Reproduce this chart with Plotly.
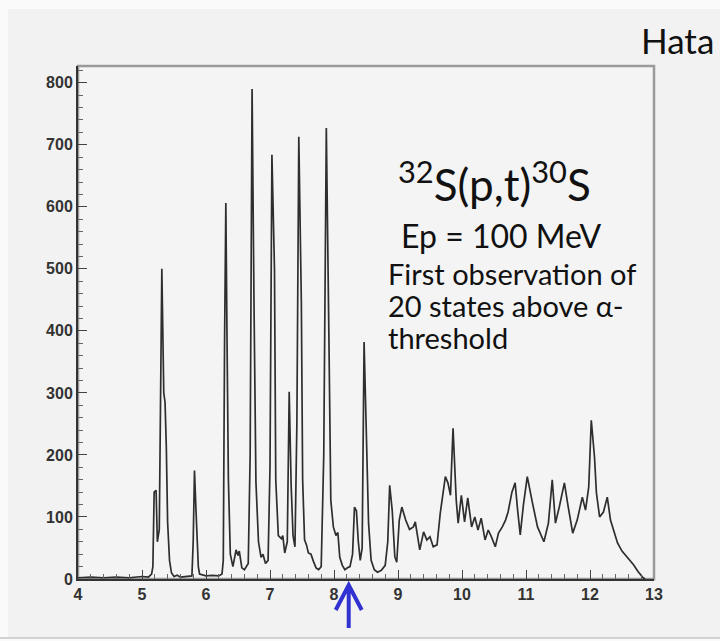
import plotly.graph_objects as go

# Excitation energy (MeV) and counts
energy = [
    4.00, 4.20, 4.40, 4.60, 4.80, 5.00, 5.10, 5.15, 5.17, 5.19, 5.22, 5.24, 5.27, 5.31, 5.34,
    5.36, 5.38, 5.40, 5.43, 5.46, 5.50, 5.55, 5.60, 5.70, 5.78, 5.80, 5.82, 5.84, 5.86, 5.88,
    5.90, 6.00, 6.10, 6.20, 6.25, 6.27, 6.29, 6.31, 6.33, 6.35, 6.38, 6.42, 6.47, 6.50, 6.52,
    6.56, 6.60, 6.66, 6.69, 6.72, 6.75, 6.78, 6.82, 6.86, 6.89, 6.93, 6.97, 7.00, 7.03, 7.07,
    7.09, 7.13, 7.18, 7.20, 7.23, 7.27, 7.30, 7.33, 7.36, 7.39, 7.42, 7.45, 7.49, 7.51, 7.54,
    7.57, 7.60, 7.64, 7.68, 7.72, 7.76, 7.80, 7.84, 7.88, 7.92, 7.95, 7.99, 8.03, 8.06, 8.09,
    8.13, 8.17, 8.21, 8.25, 8.29, 8.32, 8.35, 8.38, 8.41, 8.44, 8.47, 8.50, 8.54, 8.58, 8.63,
    8.68, 8.74, 8.80, 8.84, 8.87, 8.91, 8.95, 8.98, 9.02, 9.06, 9.12, 9.18, 9.24, 9.27, 9.34,
    9.40, 9.45, 9.50, 9.55, 9.61, 9.66, 9.70, 9.74, 9.78, 9.82, 9.86, 9.89, 9.91, 9.94, 9.99,
    10.04, 10.09, 10.15, 10.20, 10.25, 10.30, 10.36, 10.41, 10.46, 10.52, 10.57, 10.63, 10.68,
    10.72, 10.78, 10.83, 10.87, 10.91, 10.96, 11.02, 11.10, 11.18, 11.28, 11.35, 11.41, 11.46,
    11.52, 11.60, 11.66, 11.73, 11.80, 11.88, 11.93, 11.98, 12.02, 12.07, 12.10, 12.15, 12.21,
    12.27, 12.32, 12.38, 12.43, 12.50, 12.55, 12.62, 12.68, 12.75, 12.82, 12.86,
]
counts = [
    2, 3, 2, 3, 2, 4, 3, 8, 20, 140, 143, 60, 80, 500, 300,
    285, 213, 92, 30, 10, 4, 6, 3, 4, 5, 60, 175, 120, 63, 20,
    8, 5, 6, 5, 8, 30, 380, 606, 370, 160, 40, 20, 47, 38, 45,
    18, 15, 25, 200, 790, 445, 157, 60, 35, 40, 25, 30, 180, 684, 500,
    160, 70, 65, 70, 42, 60, 302, 152, 70, 52, 250, 713, 445, 160, 63,
    55, 42, 40, 28, 18, 15, 20, 200, 727, 393, 127, 84, 70, 75, 35,
    22, 15, 18, 20, 40, 116, 110, 60, 30, 50, 382, 260, 90, 30, 15,
    11, 14, 22, 60, 151, 110, 36, 27, 95, 116, 95, 80, 84, 92, 47,
    76, 63, 68, 52, 55, 106, 140, 165, 155, 135, 243, 170, 127, 90, 135,
    92, 131, 84, 100, 79, 98, 63, 79, 68, 52, 74, 84, 95,
    108, 140, 155, 110, 71, 120, 165, 123, 84, 60, 90, 160, 90,
    116, 155, 116, 74, 95, 132, 111, 148, 256, 197, 139, 100, 108,
    132, 95, 75, 58, 45, 39, 30, 23, 12, 3, 0,
]

x_ticks = [4, 5, 6, 7, 8, 9, 10, 11, 12, 13]
y_ticks = [0, 100, 200, 300, 400, 500, 600, 700, 800]
alpha_threshold = 8.23

W, H = 720, 641
L, R, T, B = 78, 66, 66, 62
pw, ph = W - L - R, H - T - B

def px(xp):
    return (xp - L) / pw

def py(yp):
    return (H - B - yp) / ph

fig = go.Figure()
fig.add_trace(go.Scatter(
    x=energy, y=counts, mode="lines",
    line=dict(color="#2e2e2e", width=1.7),
    hoverinfo="skip", showlegend=False,
))

tickfont = dict(family="Liberation Sans", size=16, color="#333333", weight="bold")
fig.update_xaxes(
    range=[4, 13], tickvals=x_ticks, ticktext=[str(v) for v in x_ticks],
    ticks="inside", ticklen=9, tickwidth=1.3, tickcolor="#444",
    minor=dict(dtick=0.2, ticks="inside", ticklen=5, tickwidth=1, tickcolor="#666"),
    showline=True, linecolor="#333", linewidth=2,
    showgrid=False, zeroline=False, tickfont=tickfont,
)
fig.update_yaxes(
    range=[0, 827], tickvals=y_ticks, ticktext=[str(v) for v in y_ticks],
    ticks="inside", ticklen=9, tickwidth=1.3, tickcolor="#444",
    minor=dict(dtick=20, ticks="inside", ticklen=5, tickwidth=1, tickcolor="#666"),
    showline=True, linecolor="#333", linewidth=2,
    showgrid=False, zeroline=False, tickfont=tickfont,
)

# slide background and its bottom edge
fig.add_shape(type="rect", xref="paper", yref="paper", x0=px(8), y0=py(637), x1=px(725), y1=py(9),
              fillcolor="#f2f2f2", line=dict(width=0), layer="below")
fig.add_shape(type="line", xref="paper", yref="paper", x0=px(0), y0=py(638), x1=px(720), y1=py(638),
              line=dict(color="#d2d2d2", width=2), layer="below")
# plot frame (top/right in grey)
fig.add_shape(type="rect", xref="paper", yref="paper", x0=0, y0=0, x1=1, y1=1,
              fillcolor="#f4f4f4", line=dict(color="#9a9a9a", width=2.5), layer="below")

# arrow marking the alpha threshold
fig.add_shape(type="path", xref="x", yref="paper", xsizemode="pixel", ysizemode="pixel",
              xanchor=alpha_threshold, yanchor=0,
              path="M0,-6 L0,-49 M-13,-31 L0,-6 L13,-31",
              line=dict(color="#3232d2", width=4))

txtfont = "Lato"
fig.add_annotation(xref="paper", yref="paper", x=px(639), y=py(40), xanchor="left", yanchor="middle",
                   text="Hata", showarrow=False, font=dict(family=txtfont, size=35, color="#111"))
fig.add_annotation(xref="paper", yref="paper", x=px(396), y=py(181), xanchor="left", yanchor="middle",
                   text="<sup>32</sup>S(p,t)<sup>30</sup>S", showarrow=False,
                   font=dict(family=txtfont, size=44, color="#111"))
fig.add_annotation(xref="paper", yref="paper", x=px(399), y=py(235), xanchor="left", yanchor="middle",
                   text="Ep = 100 MeV", showarrow=False, font=dict(family=txtfont, size=32, color="#111"))
for i, line_txt in enumerate(["First observation of", "20 states above α-", "threshold"]):
    fig.add_annotation(xref="paper", yref="paper", x=px(386), y=py(273 + 32 * i), xanchor="left",
                       yanchor="middle", text=line_txt, align="left",
                       showarrow=False, font=dict(family=txtfont, size=29, color="#111"))

fig.update_layout(
    width=W, height=H,
    margin=dict(l=L, r=R, t=T, b=B, autoexpand=False),
    paper_bgcolor="#fafafa", plot_bgcolor="rgba(0,0,0,0)",
)

fig.write_html("out.html")
